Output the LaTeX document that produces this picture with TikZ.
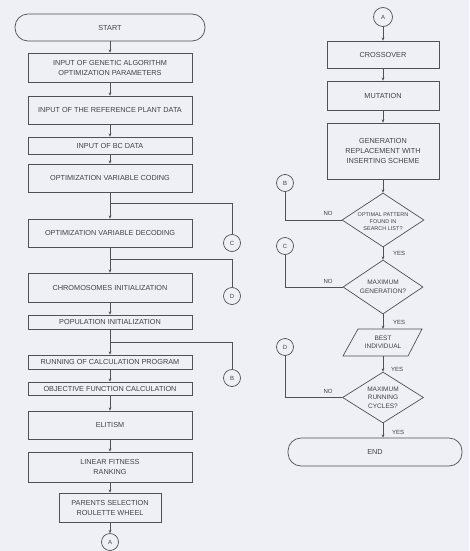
\documentclass[tikz,border=0pt]{standalone}
\usepackage{fontspec}
\setmainfont{Liberation Sans}
\usetikzlibrary{shapes.geometric,arrows.meta}
\definecolor{bg}{RGB}{238,240,245}
\definecolor{lc}{RGB}{80,80,86}
\definecolor{tc}{RGB}{65,65,70}
\begin{document}
\begin{tikzpicture}[x=1pt,y=-1pt,
 every node/.style={text=tc},
 box/.style={draw=lc,line width=0.7pt,align=center,font=\fontsize{7.3}{10}\selectfont,inner sep=0pt},
 term/.style={box,rounded corners=13pt},
 conn/.style={draw=lc,line width=0.7pt,circle,minimum size=17pt,inner sep=0pt,font=\fontsize{6}{6}\selectfont},
 dia/.style={draw=lc,line width=0.7pt,diamond,inner sep=0pt},
 txt/.style={align=center,font=\fontsize{6.5}{8.5}\selectfont,inner sep=0pt},
 lab/.style={font=\fontsize{6}{6}\selectfont,inner sep=0pt},
 flow/.style={draw=lc,line width=0.7pt,-{Stealth[length=3.2pt,width=2.8pt]}},
 wire/.style={draw=lc,line width=0.7pt}]
\fill[bg] (0,0) rectangle (469,551);
\useasboundingbox (0,0) rectangle (469,551);
% left column
\node[term,minimum width=190pt,minimum height=27pt] (start) at (110,27.5) {START};
\node[box,minimum width=164pt,minimum height=29pt] (b2) at (110,67.5) {INPUT OF GENETIC ALGORITHM\\OPTIMIZATION PARAMETERS};
\node[box,minimum width=164pt,minimum height=28pt] (b3) at (110,110) {INPUT OF THE REFERENCE PLANT DATA};
\node[box,minimum width=164pt,minimum height=17pt] (b4) at (110,145.5) {INPUT OF BC DATA};
\node[box,minimum width=164pt,minimum height=28pt] (b5) at (110,178) {OPTIMIZATION VARIABLE CODING};
\node[box,minimum width=164pt,minimum height=28pt] (b6) at (110,233) {OPTIMIZATION VARIABLE DECODING};
\node[box,minimum width=164pt,minimum height=29pt] (b7) at (110,287.5) {CHROMOSOMES INITIALIZATION};
\node[box,minimum width=164pt,minimum height=14pt] (b8) at (110,322) {POPULATION INITIALIZATION};
\node[box,minimum width=164pt,minimum height=14pt] (b9) at (110,362) {RUNNING OF CALCULATION PROGRAM};
\node[box,minimum width=164pt,minimum height=13pt] (b10) at (110,388.5) {OBJECTIVE FUNCTION CALCULATION};
\node[box,minimum width=164pt,minimum height=28pt] (b11) at (110,425) {ELITISM};
\node[box,minimum width=164pt,minimum height=30pt] (b12) at (110,467) {LINEAR FITNESS\\RANKING};
\node[box,minimum width=102pt,minimum height=29pt] (b13) at (110,507.5) {PARENTS SELECTION\\ROULETTE WHEEL};
\node[conn] (aL) at (110,542) {A};
\foreach \a/\b in {start/b2,b2/b3,b3/b4,b4/b5,b5/b6,b6/b7,b7/b8,b8/b9,b9/b10,b10/b11,b11/b12,b12/b13,b13/aL}
  \draw[flow] (\a.south) -- (\b.north);
\coordinate (j1) at (110,203);
\coordinate (j2) at (110,259);
\coordinate (j3) at (110,342);
\node[conn] (cL1) at (232,243) {C};
\node[conn] (cL2) at (232,296) {D};
\node[conn] (cL3) at (232,378) {B};
\draw[wire] (cL1.north) |- (j1);
\draw[wire] (cL2.north) |- (j2);
\draw[wire] (cL3.north) |- (j3);
% right column
\node[conn,minimum size=19pt] (aR) at (383,17) {A};
\node[box,minimum width=112pt,minimum height=27pt] (r1) at (383,54.5) {CROSSOVER};
\node[box,minimum width=112pt,minimum height=29pt] (r2) at (383,95.5) {MUTATION};
\node[box,minimum width=112pt,minimum height=56pt] (r3) at (383,151) {GENERATION\\REPLACEMENT WITH\\INSERTING SCHEME};
\node[dia,minimum width=82pt,minimum height=54pt] (d1) at (383,220) {};
\node[txt,font=\fontsize{5.5}{7.2}\selectfont] (t1) at ([yshift=-1.5pt]d1.center) {OPTIMAL PATTERN\\FOUND IN\\SEARCH LIST?};
\node[dia,minimum width=80pt,minimum height=54pt] (d2) at (383,287) {};
\node[txt] (t2) at (d2) {MAXIMUM\\GENERATION?};
\node[txt,minimum width=60pt,minimum height=27pt] (pa) at (383,342.5) {BEST\\INDIVIDUAL};
\draw[wire] (343,356) -- (358,329) -- (422,329) -- (408,356) -- cycle;
\node[dia,minimum width=81pt,minimum height=51pt] (d3) at (383,397.5) {};
\node[txt] (t3) at (d3) {MAXIMUM\\RUNNING\\CYCLES?};
\node[term,minimum width=174pt,minimum height=28pt] (end) at (375,452) {END};
\draw[flow] (aR.south) -- (r1.north);
\draw[flow] (r1.south) -- (r2.north);
\draw[flow] (r2.south) -- (r3.north);
\draw[flow] (r3.south) -- (d1.north);
\draw[flow] (d1.south) -- (d2.north);
\draw[flow] (d2.south) -- (pa.north);
\draw[flow] (pa.south) -- (d3.north);
\draw[flow] (d3.south) -- (d3.south |- end.north);
\node[lab] (y1) at (399,253) {YES};
\node[lab] (y2) at (399,322) {YES};
\node[lab] (y3) at (397,369) {YES};
\node[lab] (y4) at (398,432) {YES};
\node[conn] (cB) at (285,183) {B};
\node[conn] (cC) at (285,246) {C};
\node[conn] (cD) at (285,347) {D};
\draw[wire] (d1.west) -| (cB.south);
\draw[wire] (d2.west) -| (cC.south);
\draw[wire] (d3.west) -| (cD.south);
\node[lab] (n1) at (328,213) {NO};
\node[lab] (n2) at (328,281) {NO};
\node[lab] (n3) at (328,391) {NO};
\end{tikzpicture}
\end{document}
